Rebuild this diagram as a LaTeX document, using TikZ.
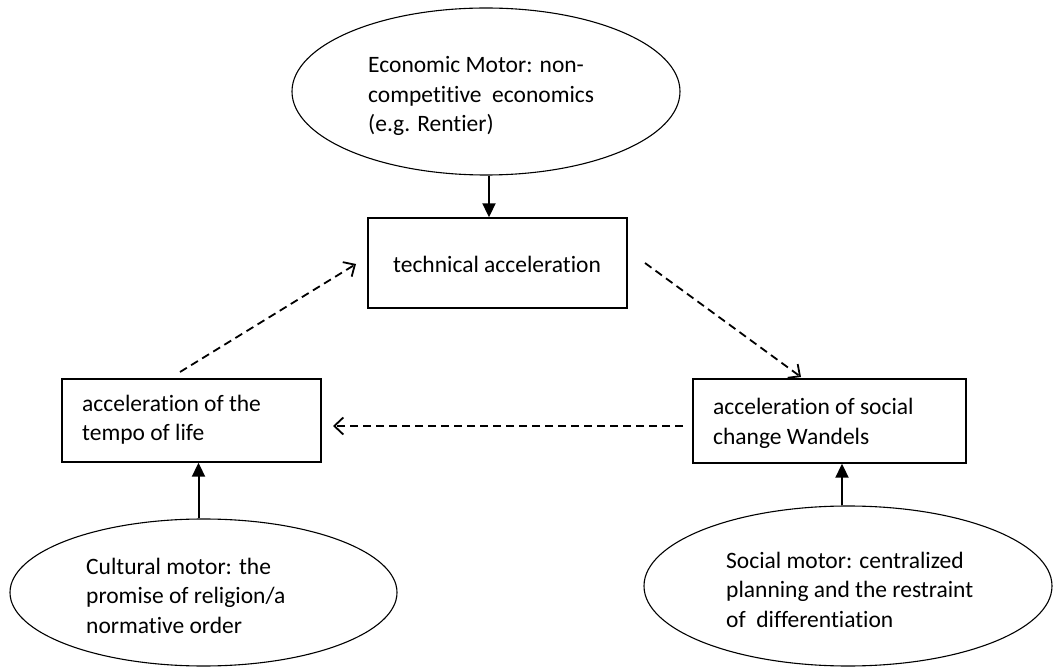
\documentclass[tikz,border=0pt]{standalone}
\usepackage{fontspec}
\setmainfont{Carlito}[Ligatures=NoCommon]
\usetikzlibrary{shapes.geometric,arrows.meta}

\begin{document}
\begin{tikzpicture}[x=1pt,y=-1pt,
  motor/.style={ellipse,draw,line width=1.1pt,inner sep=0pt},
  stagebox/.style={rectangle,draw,line width=1.4pt,inner sep=0pt},
  label/.style={anchor=base west,inner sep=0pt,align=left,
    font=\fontsize{23.5}{29.5}\selectfont},
  drive/.style={line width=2pt,-{Triangle[length=14pt,width=13pt]}},
  feedback/.style={line width=1.8pt,dash pattern=on 8pt off 5pt,
    -{Straight Barb[length=9pt,width=17pt,line width=1.8pt]}}]

\useasboundingbox[fill=white] (0,0) rectangle (1053,668);

% motors
\node[motor,minimum width=388pt,minimum height=167pt] (eco)  at (486,91.5) {};
\node[motor,minimum width=387pt,minimum height=147pt] (cult) at (203.5,592.5) {};
\node[motor,minimum width=408pt,minimum height=160pt] (soc)  at (848,586) {};

% accelerations
\node[stagebox,minimum width=259pt,minimum height=90pt] (tech) at (497.5,263) {};
\node[stagebox,minimum width=259pt,minimum height=83pt] (life) at (191.5,420.5) {};
\node[stagebox,minimum width=273pt,minimum height=84pt] (chg)  at (829.5,421) {};

% texts (multi-line labels are placed by the baseline of their last line)
\node[label] (ecot)  at (368,132) {Economic Motor: non-\\competitive~ economics\\(e.g. Rentier)};
\node[label] (techt) at (393,273) {technical acceleration};
\node[label] (lifet) at (82,441)  {acceleration of the\\tempo of life};
\node[label] (chgt)  at (713,444) {acceleration of social\\change Wandels};
\node[label] (cultt) at (86,633)  {Cultural motor: the\\promise of religion/a\\normative order};
\node[label] (soct)  at (726,627) {Social motor: centralized\\planning and the restraint\\of~ differentiation};

% motors driving the accelerations
\draw[drive] ([xshift=3pt]eco.south) -- ([xshift=3pt]eco.south |- tech.north);
\draw[drive] ([xshift=-5pt]cult.north) -- ([xshift=-5pt]cult.north |- life.south);
\draw[drive] ([xshift=-6pt]soc.north) -- ([xshift=-6pt]soc.north |- chg.south);

% the acceleration cycle
\coordinate (c1s) at (180,372);
\coordinate (c1e) at (356,264);
\coordinate (c2s) at (645,263);
\coordinate (c2e) at (801,377);
\coordinate (c3s) at (683,426);
\coordinate (c3e) at (333,426);
\draw[feedback] (c1s) -- (c1e);
\draw[feedback] (c2s) -- (c2e);
\draw[feedback] (c3s) -- (c3e);

\end{tikzpicture}
\end{document}
